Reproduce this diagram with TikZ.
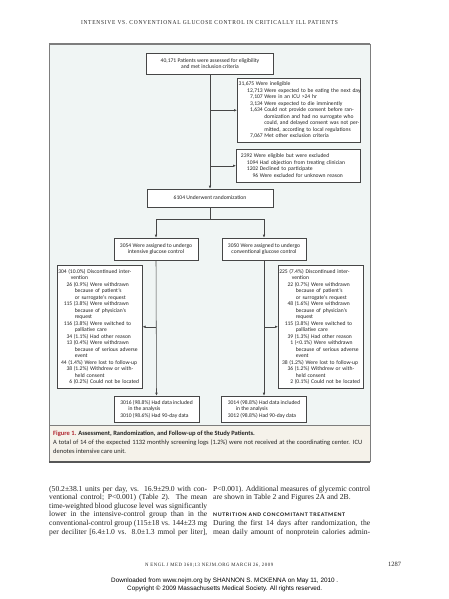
\documentclass[tikz,border=0pt]{standalone}
\usepackage{fontspec}
\usepackage{graphicx}
\setmainfont{Liberation Serif}
\newfontfamily\figf{Carlito}
\newfontfamily\arialf{Liberation Sans}
\usetikzlibrary{arrows.meta}
\definecolor{figbg}{RGB}{240,245,244}
\definecolor{capbg}{RGB}{245,242,234}
\definecolor{framec}{RGB}{125,125,125}
\definecolor{boxc}{RGB}{70,70,70}
\definecolor{figred}{RGB}{175,35,45}
\definecolor{txtc}{RGB}{35,35,35}
\newcommand\figsize{\figf\fontsize{5.6}{6.5}\selectfont}
\newcommand\It[3]{\mbox{\makebox[#1][r]{#2}\hspace{1.5pt}#3}}
\newcommand\Ct[2]{\mbox{\hspace*{#1}\hspace*{1.5pt}#2}}
\newcommand\bodyf{\fontsize{7.6}{8.6}\selectfont}
\newcommand\capfont{\figf\fontsize{6.5}{8.5}\selectfont}
\tikzset{
  fb/.style={draw=boxc, fill=white, line width=0.55pt, inner xsep=1pt, inner ysep=0pt, font=\figsize, text=txtc},
  fl/.style={draw=boxc, line width=0.55pt},
  fa/.style={fl, -{Latex[length=3pt,width=2.6pt]}},
  tx/.style={anchor=base west, inner sep=0pt, text=txtc},
}
\begin{document}
\begin{tikzpicture}[x=1pt,y=-1pt]
\useasboundingbox (0,0) rectangle (449,599);
\fill[white] (0,0) rectangle (449,599);
% header
\node[anchor=base, inner sep=0pt, text=txtc] (hdr) at (209.5,25) {\resizebox{257pt}{4pt}{\addfontfeature{LetterSpace=14}INTENSIVE VS. CONVENTIONAL GLUCOSE CONTROL IN CRITICALLY ILL PATIENTS}};
% figure frame
\fill[figbg] (49,44) rectangle (370,425);
\fill[capbg] (49,425) rectangle (370,462);
\draw[framec, line width=0.5pt] (49,44) -- (49,462) (370,44) -- (370,462);
\draw[framec, line width=0.5pt] (49,425) -- (370,425);
\draw[framec, line width=2.6pt] (48.75,44) -- (370.25,44);
\draw[framec!70!black, line width=1.6pt] (48.75,462) -- (370.25,462);
% boxes
\node[fb, minimum width=127pt, minimum height=21pt, align=center] (assess) at (210,63.5) {40,171 Patients were assessed for eligibility\\and met inclusion criteria};
\node[fb, anchor=north west, minimum width=123pt, minimum height=64pt, text width=121pt, align=left] (inel) at (237,78) {%
\It{16pt}{31,675}{Were ineligible}\\
\It{24.5pt}{12,713}{Were expected to be eating the next day}\\
\It{24.5pt}{7,107}{Were in an ICU >24 hr}\\
\It{24.5pt}{3,134}{Were expected to die imminently}\\
\It{24.5pt}{1,634}{Could not provide consent before ran-}\\
\Ct{24.5pt}{domization and had no surrogate who}\\
\Ct{24.5pt}{could, and delayed consent was not per-}\\
\Ct{24.5pt}{mitted, according to local regulations}\\
\It{24.5pt}{7,067}{Met other exclusion criteria}};
\node[fb, anchor=north west, minimum width=124pt, minimum height=33pt, text width=122pt, align=left] (excl) at (236,149) {%
\It{15pt}{2392}{Were eligible but were excluded}\\
\It{21pt}{1094}{Had objection from treating clinician}\\
\It{21pt}{1202}{Declined to participate}\\
\It{21pt}{96}{Were excluded for unknown reason}};
\node[fb, minimum width=126pt, minimum height=18pt] (rand) at (210,198) {6104 Underwent randomization};
\node[fb, minimum width=84pt, minimum height=22pt, align=center] (intens) at (156,249) {3054 Were assigned to undergo\\intensive glucose control};
\node[fb, minimum width=84pt, minimum height=22pt, align=center] (conv) at (264,249) {3050 Were assigned to undergo\\conventional glucose control};
\node[fb, anchor=north west, minimum width=85pt, minimum height=123pt, text width=83pt, align=left] (discL) at (57,265) {%
\It{8.5pt}{304}{(10.0\%) Discontinued inter-}\\
\Ct{11pt}{vention}\\
\It{14pt}{26}{(0.9\%) Were withdrawn}\\
\Ct{15pt}{because of patient’s}\\
\Ct{15pt}{or surrogate’s request}\\
\It{14pt}{115}{(3.8\%) Were withdrawn}\\
\Ct{15pt}{because of physician’s}\\
\Ct{15pt}{request}\\
\It{14pt}{116}{(3.8\%) Were switched to}\\
\Ct{15pt}{palliative care}\\
\It{14pt}{34}{(1.1\%) Had other reason}\\
\It{14pt}{13}{(0.4\%) Were withdrawn}\\
\Ct{15pt}{because of serious adverse}\\
\Ct{15pt}{event}\\
\It{8.5pt}{44}{(1.4\%) Were lost to follow-up}\\
\It{14pt}{38}{(1.2\%) Withdrew or with-}\\
\Ct{15pt}{held consent}\\
\It{14pt}{6}{(0.2\%) Could not be located}};
\node[fb, anchor=north west, minimum width=85pt, minimum height=123pt, text width=83pt, align=left] (discR) at (278,265) {%
\It{8.5pt}{225}{(7.4\%) Discontinued inter-}\\
\Ct{11pt}{vention}\\
\It{14pt}{22}{(0.7\%) Were withdrawn}\\
\Ct{15pt}{because of patient’s}\\
\Ct{15pt}{or surrogate’s request}\\
\It{14pt}{48}{(1.6\%) Were withdrawn}\\
\Ct{15pt}{because of physician’s}\\
\Ct{15pt}{request}\\
\It{14pt}{115}{(3.8\%) Were switched to}\\
\Ct{15pt}{palliative care}\\
\It{14pt}{39}{(1.3\%) Had other reason}\\
\It{14pt}{1}{(<0.1\%) Were withdrawn}\\
\Ct{15pt}{because of serious adverse}\\
\Ct{15pt}{event}\\
\It{8.5pt}{38}{(1.2\%) Were lost to follow-up}\\
\It{14pt}{36}{(1.2\%) Withdrew or with-}\\
\Ct{15pt}{held consent}\\
\It{14pt}{2}{(0.1\%) Could not be located}};
\node[fb, minimum width=85pt, minimum height=26pt, align=left] (datL) at (156.5,409) {3016 (98.8\%) Had data included\\\hspace*{8pt}in the analysis\\3010 (98.6\%) Had 90-day data};
\node[fb, minimum width=85pt, minimum height=26pt, align=left] (datR) at (264,409) {3014 (98.8\%) Had data included\\\hspace*{8pt}in the analysis\\3012 (98.8\%) Had 90-day data};
% connectors
\draw[fa] (assess.south) -- (rand.north);
\draw[fa] (assess.south |- inel.west) -- (inel.west);
\draw[fa] (assess.south |- excl.west) -- (excl.west);
\draw[fl] (rand.south) -- ++(0,12) coordinate (sp);
\draw[fl] (intens.north |- sp) -- (conv.north |- sp);
\draw[fa] (intens.north |- sp) -- (intens.north);
\draw[fa] (conv.north |- sp) -- (conv.north);
\draw[fa] (intens.south) -- (datL.north);
\draw[fa] (conv.south) -- (datR.north);
\draw[fa] (intens.south |- discL.east) -- (discL.east);
\draw[fa] (conv.south |- discR.west) -- (discR.west);
% caption
\node[tx] (cap1) at (53,435) {\capfont\bfseries\textcolor{figred}{Figure 1.} Assessment, Randomization, and Follow-up of the Study Patients.};
\node[tx] (cap2) at (53,444.5) {\capfont\makebox[309pt][s]{A total of 14 of the expected 1132 monthly screening logs (1.2\%) were not received at the coordinating center. ICU}};
\node[tx] (cap3) at (53,453) {\capfont denotes intensive care unit.};
% body text left column
\node[tx] (l1) at (49,491) {\bodyf\makebox[158pt][s]{(50.2±38.1 units per day, vs. 16.9±29.0 with con-}};
\node[tx] (l2) at (49,499.6) {\bodyf\makebox[158pt][s]{ventional control; P<0.001) (Table 2). The mean}};
\node[tx] (l3) at (49,508.2) {\bodyf\makebox[158pt][s]{time-weighted blood glucose level was significantly}};
\node[tx] (l4) at (49,516.8) {\bodyf\makebox[158pt][s]{lower in the intensive-control group than in the}};
\node[tx] (l5) at (49,525.4) {\bodyf\makebox[158pt][s]{conventional-control group (115±18 vs. 144±23 mg}};
\node[tx] (l6) at (49,534) {\bodyf\makebox[158pt][s]{per deciliter [6.4±1.0 vs. 8.0±1.3 mmol per liter],}};
% right column
\node[tx] (r1) at (213,491) {\bodyf\makebox[157pt][s]{P<0.001). Additional measures of glycemic control}};
\node[tx] (r2) at (213,499.6) {\bodyf are shown in Table 2 and Figures 2A and 2B.};
\node[tx] (r4) at (213,516.8) {\resizebox{132pt}{3.6pt}{\figf\bfseries\addfontfeature{LetterSpace=10}NUTRITION AND CONCOMITANT TREATMENT}};
\node[tx] (r5) at (213,525.4) {\bodyf\makebox[157pt][s]{During the first 14 days after randomization, the}};
\node[tx] (r6) at (213,534) {\bodyf\makebox[157pt][s]{mean daily amount of nonprotein calories admin-}};
% footer
\node[tx] (ft) at (145,566) {\resizebox{128pt}{3.3pt}{\addfontfeature{LetterSpace=12}N ENGL J MED 360;13 NEJM.ORG MARCH 26, 2009}};
\node[tx] (pg) at (388,566) {\fontsize{6.5}{8}\selectfont 1287};
\node[tx, text=black] (dl) at (111,582) {\resizebox{227pt}{!}{\arialf\fontsize{6.5}{8}\selectfont Downloaded from www.nejm.org by SHANNON S. MCKENNA on May 11, 2010 .}};
\node[tx, text=black] (cp) at (127,590) {\resizebox{195pt}{!}{\arialf\fontsize{6.5}{8}\selectfont Copyright © 2009 Massachusetts Medical Society. All rights reserved.}};
\end{tikzpicture}
\end{document}
